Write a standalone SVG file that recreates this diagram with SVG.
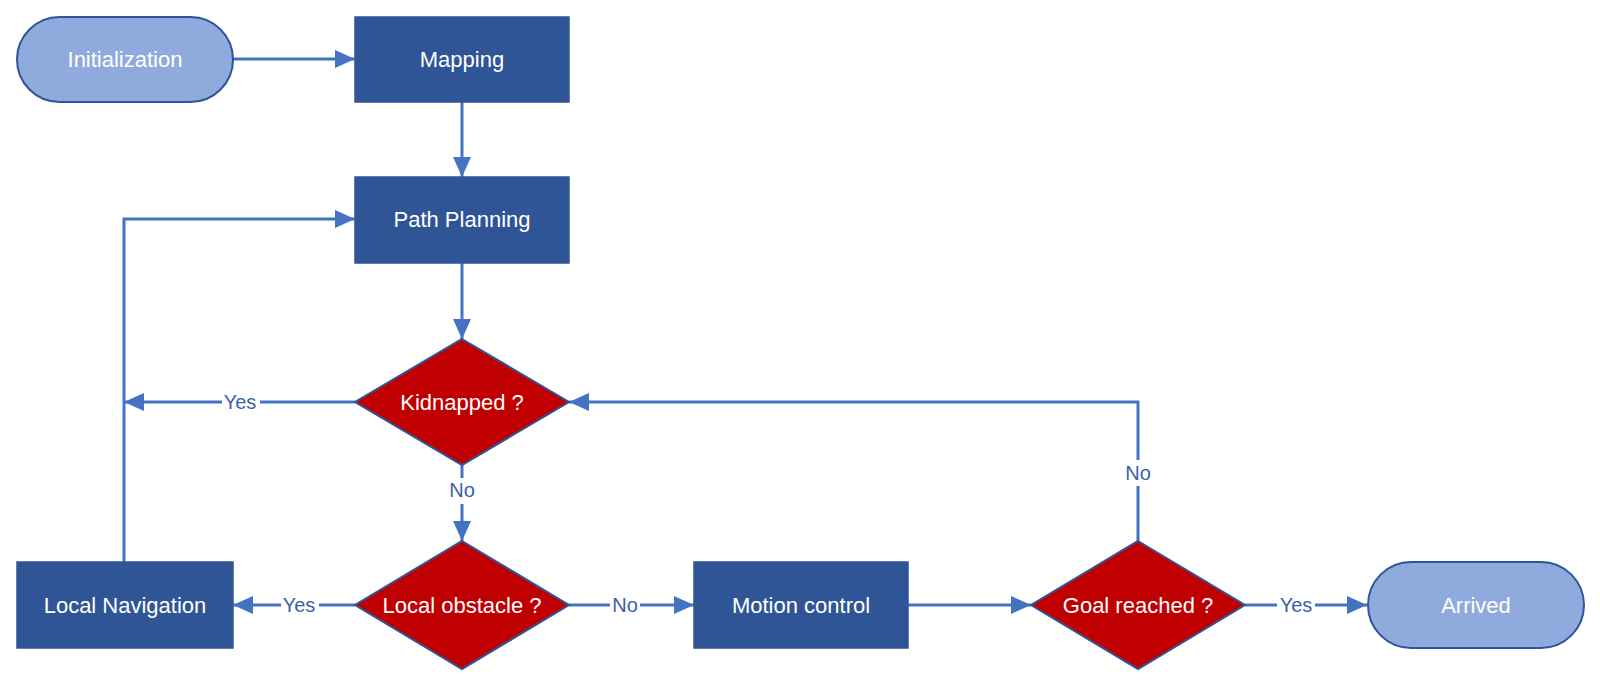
<svg xmlns="http://www.w3.org/2000/svg" width="1600" height="687" viewBox="0 0 1600 687">
<style>
.rect{fill:#2F5597;stroke:#2F5597;stroke-width:1.5}
.pill{fill:#8FAADC;stroke:#2F5597;stroke-width:2}
.dia{fill:#C00000;stroke:#2F5597;stroke-width:2}
.t{font-family:"Liberation Sans",Arial,sans-serif;font-size:22px;fill:#FFFFFF;text-anchor:middle;dominant-baseline:central}
.c{fill:none;stroke:#4472C4;stroke-width:3}
.lbl{font-family:"Liberation Sans",Arial,sans-serif;font-size:20px;fill:#3A5FA8;text-anchor:middle;dominant-baseline:central}
.bg{fill:#FFFFFF}
</style>
<defs>
<marker id="a" viewBox="0 0 20 18" refX="20" refY="9" markerWidth="20" markerHeight="18" markerUnits="userSpaceOnUse" orient="auto">
<path d="M0,0 L20,9 L0,18 z" fill="#4472C4"/>
</marker>
</defs>
<rect width="1600" height="687" fill="#FFFFFF"/>
<g id="connectors">
<path class="c" d="M233,59 L355,59" marker-end="url(#a)"/>
<path class="c" d="M462,102 L462,177" marker-end="url(#a)"/>
<path class="c" d="M462,263 L462,339" marker-end="url(#a)"/>
<path class="c" d="M355,402 L124,402" marker-end="url(#a)"/>
<path class="c" d="M124,562 L124,219 L355,219" marker-end="url(#a)"/>
<path class="c" d="M462,465 L462,541" marker-end="url(#a)"/>
<path class="c" d="M355,605 L233,605" marker-end="url(#a)"/>
<path class="c" d="M569,605 L694,605" marker-end="url(#a)"/>
<path class="c" d="M908,605 L1031,605" marker-end="url(#a)"/>
<path class="c" d="M1245,605 L1367,605" marker-end="url(#a)"/>
<path class="c" d="M1138,541 L1138,402 L569,402" marker-end="url(#a)"/>
<rect class="bg" x="222" y="390" width="38" height="24"/>
<text class="lbl" x="240" y="402">Yes</text>
<rect class="bg" x="447" y="478" width="30" height="26"/>
<text class="lbl" x="462" y="490">No</text>
<rect class="bg" x="281" y="593" width="38" height="24"/>
<text class="lbl" x="299" y="605">Yes</text>
<rect class="bg" x="610" y="593" width="30" height="24"/>
<text class="lbl" x="625" y="605">No</text>
<rect class="bg" x="1277" y="593" width="38" height="24"/>
<text class="lbl" x="1296" y="605">Yes</text>
<rect class="bg" x="1123" y="460" width="30" height="26"/>
<text class="lbl" x="1138" y="473">No</text>
</g>
<g id="initialization">
<rect class="pill" x="17" y="17" width="216" height="85" rx="42.5" ry="42.5"/>
<text class="t" x="125" y="59">Initialization</text>
</g>
<g id="mapping">
<rect class="rect" x="355" y="17" width="214" height="85"/>
<text class="t" x="462" y="59">Mapping</text>
</g>
<g id="path-planning">
<rect class="rect" x="355" y="177" width="214" height="86"/>
<text class="t" x="462" y="219">Path Planning</text>
</g>
<g id="kidnapped">
<polygon class="dia" points="462,339 569,402 462,465 355,402"/>
<text class="t" x="462" y="402">Kidnapped ?</text>
</g>
<g id="local-obstacle">
<polygon class="dia" points="462,541 569,605 462,669 355,605"/>
<text class="t" x="462" y="605">Local obstacle ?</text>
</g>
<g id="local-navigation">
<rect class="rect" x="17" y="562" width="216" height="86"/>
<text class="t" x="125" y="605">Local Navigation</text>
</g>
<g id="motion-control">
<rect class="rect" x="694" y="562" width="214" height="86"/>
<text class="t" x="801" y="605">Motion control</text>
</g>
<g id="goal-reached">
<polygon class="dia" points="1138,541 1245,605 1138,669 1031,605"/>
<text class="t" x="1138" y="605">Goal reached ?</text>
</g>
<g id="arrived">
<rect class="pill" x="1368" y="562" width="216" height="86" rx="43" ry="43"/>
<text class="t" x="1476" y="605">Arrived</text>
</g>
</svg>
